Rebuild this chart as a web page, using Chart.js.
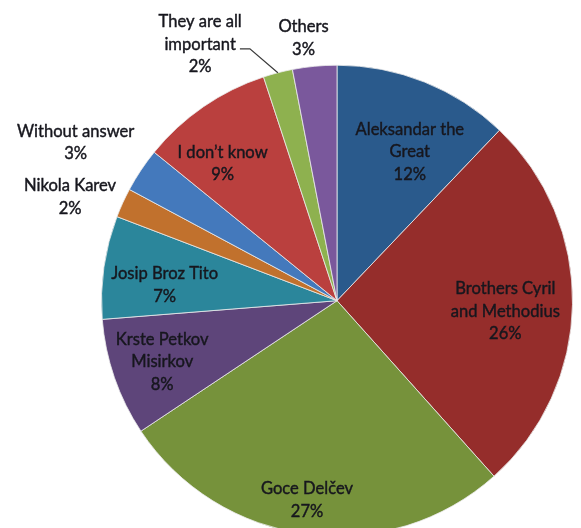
<!DOCTYPE html>
<html>
<head>
<meta charset="utf-8">
<script src="https://cdn.jsdelivr.net/npm/chart.js@4"></script>
<style>
  html, body { margin: 0; padding: 0; background: #fff; overflow: hidden; width: 581px; height: 528px; }
  #wrap { position: relative; width: 581px; height: 545px; }
</style>
</head>
<body>
<div id="wrap"><canvas id="c" width="581" height="545"></canvas></div>
<script>
// Survey answers, clockwise from 12 o'clock
const categories = [
  ['Aleksandar the', 'Great'],
  ['Brothers Cyril', 'and Methodius'],
  ['Goce Delčev'],
  ['Krste Petkov', 'Misirkov'],
  ['Josip Broz Tito'],
  ['Nikola Karev'],
  ['Without answer'],
  ['I don’t know'],
  ['They are all', 'important'],
  ['Others']
];
const shares = [12, 26, 27, 8, 7, 2, 3, 9, 2, 3];

const sliceColors = [
  '#2a5a8c', '#952d2b', '#76923b', '#5e457a', '#2b869b',
  '#c1712d', '#4479bc', '#ba403e', '#8eb14f', '#7a589c'
];

// Label placement: distance from centre as a fraction of the radius,
// and an angular nudge (degrees) from the slice's middle angle
const labelRadius = [0.705, 0.716, 0.854, 0.786, 0.735, 1.216, 1.298, 0.76, 1.236, 1.125];
const labelShift  = [4.2, 2.5, 1.3, -0.1, -2.8, -3.3, -2.4, -5.2, -13.5, -1.8];
const withLeader  = [false, false, false, false, false, false, false, false, true, false];

const FONT = '18px Lato, "Liberation Sans", sans-serif';
const SQUEEZE = 0.92;   // horizontal condensing of label text
const LINE_H = 22.7;
const INK = '#17171e';

const sliceLabels = {
  id: 'sliceLabels',
  afterDatasetsDraw(chart) {
    const ctx = chart.ctx;
    const arcs = chart.getDatasetMeta(0).data;
    ctx.save();
    ctx.font = FONT;
    ctx.fillStyle = INK;
    ctx.strokeStyle = INK;
    ctx.lineWidth = 0.45;
    ctx.textAlign = 'center';
    ctx.textBaseline = 'middle';
    arcs.forEach((arc, i) => {
      const p = arc.getProps(['x', 'y', 'startAngle', 'endAngle', 'outerRadius'], true);
      const mid = (p.startAngle + p.endAngle) / 2;
      const a = mid + labelShift[i] * Math.PI / 180;
      const r = p.outerRadius * labelRadius[i];
      const cx = p.x + Math.cos(a) * r;
      const cy = p.y + Math.sin(a) * r;
      const lines = categories[i].concat([shares[i] + '%']);
      const top = cy - (lines.length - 1) * LINE_H / 2;
      lines.forEach((t, k) => {
        ctx.save();
        ctx.translate(cx, top + k * LINE_H);
        ctx.scale(SQUEEZE, 1);
        ctx.fillText(t, 0, 0);
        ctx.strokeText(t, 0, 0);
        ctx.restore();
      });
      if (withLeader[i]) {
        const k = lines.length - 2;
        const w = ctx.measureText(lines[k]).width * SQUEEZE;
        const sx = cx + w / 2 + 4;
        const sy = top + k * LINE_H + 5;
        const ex = p.x + Math.cos(mid) * p.outerRadius;
        const ey = p.y + Math.sin(mid) * p.outerRadius;
        ctx.save();
        ctx.strokeStyle = '#3a3a3a';
        ctx.lineWidth = 1.2;
        ctx.beginPath();
        ctx.moveTo(sx, sy);
        ctx.lineTo(sx + 10, sy);
        ctx.lineTo(ex, ey);
        ctx.stroke();
        ctx.restore();
      }
    });
    ctx.restore();
  }
};

new Chart(document.getElementById('c'), {
  type: 'pie',
  data: {
    labels: categories,
    datasets: [{
      data: shares,
      backgroundColor: sliceColors,
      borderColor: 'rgba(235,235,235,0.8)',
      borderWidth: 1
    }]
  },
  options: {
    responsive: false,
    animation: false,
    layout: { padding: { left: 101, right: 8, top: 64.7, bottom: 8.3 } },
    plugins: {
      legend: { display: false },
      tooltip: { enabled: false }
    }
  },
  plugins: [sliceLabels]
});
</script>
</body>
</html>
